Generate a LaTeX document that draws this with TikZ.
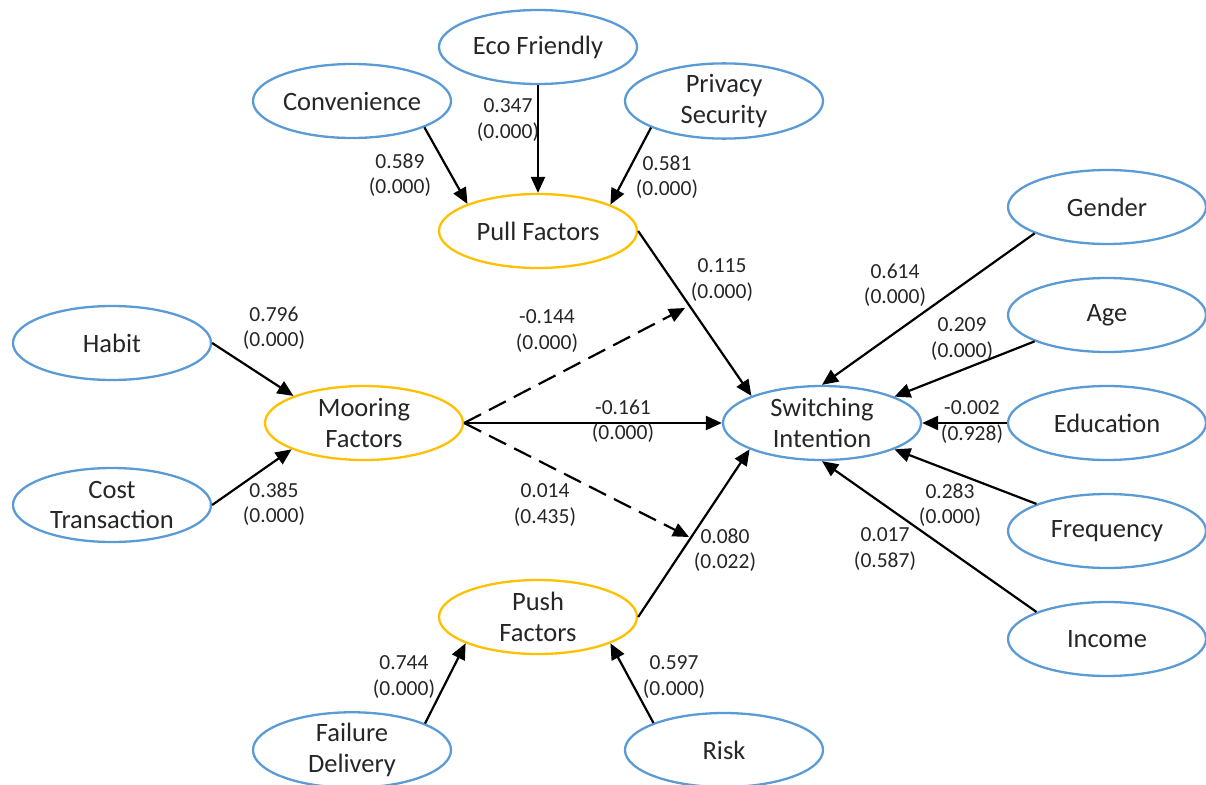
\documentclass[tikz,border=0pt]{standalone}
\usepackage{fontspec}
\setmainfont{Carlito}
\usetikzlibrary{arrows.meta,shapes.geometric}
\definecolor{ink}{HTML}{262626}
\definecolor{edge}{HTML}{5B9BD5}
\definecolor{gold}{HTML}{FFC000}

\begin{document}
\begin{tikzpicture}[x=1pt,y=-1pt,
  var/.style={ellipse,draw=edge,line width=2.3pt,minimum width=198pt,minimum height=74pt,inner sep=0pt,align=center,text=ink,font=\fontsize{26.5}{30.7}\selectfont},
  hub/.style={var,draw=gold},
  link/.style={line width=2.2pt,-{Triangle[length=16pt,width=14pt]}},
  modlink/.style={link,dash pattern=on 19pt off 9pt},
  coef/.style={align=center,text=ink,inner sep=0pt,font=\fontsize{21.5}{25.5}\selectfont}]
\useasboundingbox (0,0) rectangle (1206,784);
% indicators
\node[var] (conv) at (352,101){Convenience};
\node[var] (eco) at (538,47){Eco Friendly};
\node[var] (priv) at (724,101){Privacy\\Security};
\node[var] (habit) at (112,343){Habit};
\node[var] (cost) at (112,505){Cost\\Transaction};
\node[var] (fail) at (352,750){Failure\\Delivery};
\node[var] (risk) at (724,750){Risk};
\node[var] (gender) at (1107,207){Gender};
\node[var] (age) at (1107,315){Age};
\node[var] (edu) at (1107,423){Education};
\node[var] (freq) at (1107,531){Frequency};
\node[var] (inc) at (1107,639){Income};
% constructs
\node[hub] (pull) at (538,231){Pull Factors};
\node[hub] (moor) at (364,423){Mooring\\Factors};
\node[hub] (push) at (538,617){Push\\Factors};
\node[var] (sw) at (822,423){Switching\\Intention};
\coordinate (mpull) at (685,308);
\coordinate (mpush) at (689,537);
% paths
\draw[link] (conv.-20.5) -- (pull.159.5);
\draw[link] (eco.south) -- (pull.north);
\draw[link] (priv.200.5) -- (pull.20.5);
\draw[link] (habit.east) -- (moor.159.5);
\draw[link] (cost.east) -- (moor.200.5);
\draw[link] (fail.20.5) -- (push.200.5);
\draw[link] (risk.159.5) -- (push.-20.5);
\draw[link] (pull.east) -- (sw.159.5);
\draw[link] (push.east) -- (sw.200.5);
\draw[link] (moor.east) -- (sw.west);
\draw[modlink] (moor.east) -- (mpull);
\draw[modlink] (moor.east) -- (mpush);
\draw[link] (gender.200.5) -- (sw.north);
\draw[link] (age.200.5) -- (sw.20.5);
\draw[link] (edu.west) -- (sw.east);
\draw[link] (freq.159.5) -- (sw.-20.5);
\draw[link] (inc.159.5) -- (sw.south);
% coefficients
\node[coef] (c589) at (400,175){0.589\\(0.000)};
\node[coef] (c347) at (508,120){0.347\\(0.000)};
\node[coef] (c581) at (667,177){0.581\\(0.000)};
\node[coef] (c796) at (274,328){0.796\\(0.000)};
\node[coef] (c385) at (274,504){0.385\\(0.000)};
\node[coef] (c744) at (404,677){0.744\\(0.000)};
\node[coef] (c597) at (674,677){0.597\\(0.000)};
\node[coef] (c115) at (722,280){0.115\\(0.000)};
\node[coef] (cn144) at (547,331){-0.144\\(0.000)};
\node[coef] (cn161) at (623,421){-0.161\\(0.000)};
\node[coef] (c014) at (545,505){0.014\\(0.435)};
\node[coef] (c080) at (725,550){0.080\\(0.022)};
\node[coef] (c614) at (895,285){0.614\\(0.000)};
\node[coef] (c209) at (962,339){0.209\\(0.000)};
\node[coef] (cn002) at (972,422){-0.002\\(0.928)};
\node[coef] (c283) at (950,505){0.283\\(0.000)};
\node[coef] (c017) at (885,549){0.017\\(0.587)};
\end{tikzpicture}
\end{document}
